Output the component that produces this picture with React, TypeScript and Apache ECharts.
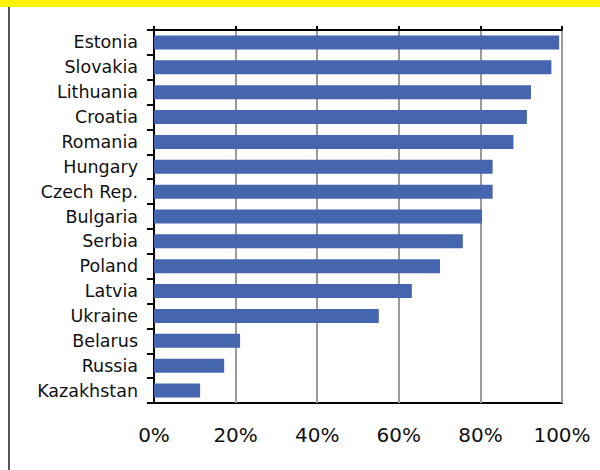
import React, { useEffect, useRef } from "react";
import * as echarts from "echarts";

const countries = [
  "Estonia", "Slovakia", "Lithuania", "Croatia", "Romania", "Hungary", "Czech Rep.",
  "Bulgaria", "Serbia", "Poland", "Latvia", "Ukraine", "Belarus", "Russia", "Kazakhstan",
];
const shares = [99.3, 97.4, 92.4, 91.4, 88.1, 83.0, 83.0, 80.4, 75.7, 70.1, 63.2, 55.1, 21.1, 17.2, 11.3];
const xTicks = [0, 20, 40, 60, 80, 100];

const FONT = "DejaVu Sans";

export default function App() {
  const ref = useRef<HTMLDivElement>(null);
  useEffect(() => {
    if (!ref.current) return;
    const chart = echarts.init(ref.current, null, { renderer: "svg" });
    chart.setOption({
      animation: false,
      backgroundColor: "#ffffff",
      grid: {
        left: 154, right: 38, top: 30, bottom: 67,
        show: true, borderColor: "#000000", borderWidth: 2,
      },
      xAxis: [
        {
          type: "value", min: xTicks[0], max: xTicks[xTicks.length - 1], interval: 20,
          position: "bottom",
          axisLine: { show: false },
          axisTick: { show: false },
          splitLine: { show: true, lineStyle: { color: "#9a9a9a", width: 2 } },
          axisLabel: {
            formatter: (v: number) => v + "%",
            color: "#111111", fontFamily: FONT, fontSize: 20, margin: 22,
          },
        },
        {
          type: "value", min: xTicks[0], max: xTicks[xTicks.length - 1], interval: 20,
          position: "top",
          axisLine: { show: true, lineStyle: { color: "#000000", width: 2 } },
          axisTick: { show: true, length: 4, inside: false, lineStyle: { color: "#000000", width: 2 } },
          splitLine: { show: false },
          axisLabel: { show: false },
        },
      ],
      yAxis: {
        type: "category",
        data: countries,
        inverse: true,
        axisLine: { show: true, lineStyle: { color: "#000000", width: 2 } },
        axisTick: { show: true, length: 7, lineStyle: { color: "#000000", width: 2 } },
        axisLabel: { color: "#111111", fontFamily: FONT, fontSize: 17.5, margin: 16 },
      },
      series: [
        {
          type: "bar",
          data: shares,
          xAxisIndex: 0,
          barWidth: 14,
          itemStyle: { color: "#4566AE" },
        },
      ],
      graphic: [
        { type: "rect", shape: { x: 0, y: 0, width: 600, height: 7 }, style: { fill: "#FFF200" } },
        { type: "rect", shape: { x: 8, y: 7, width: 2, height: 463 }, style: { fill: "#555555" } },
      ],
    });
    return () => chart.dispose();
  }, []);
  return <div ref={ref} style={{ width: 600, height: 470, position: "absolute", left: 0, top: 0 }} />;
}
